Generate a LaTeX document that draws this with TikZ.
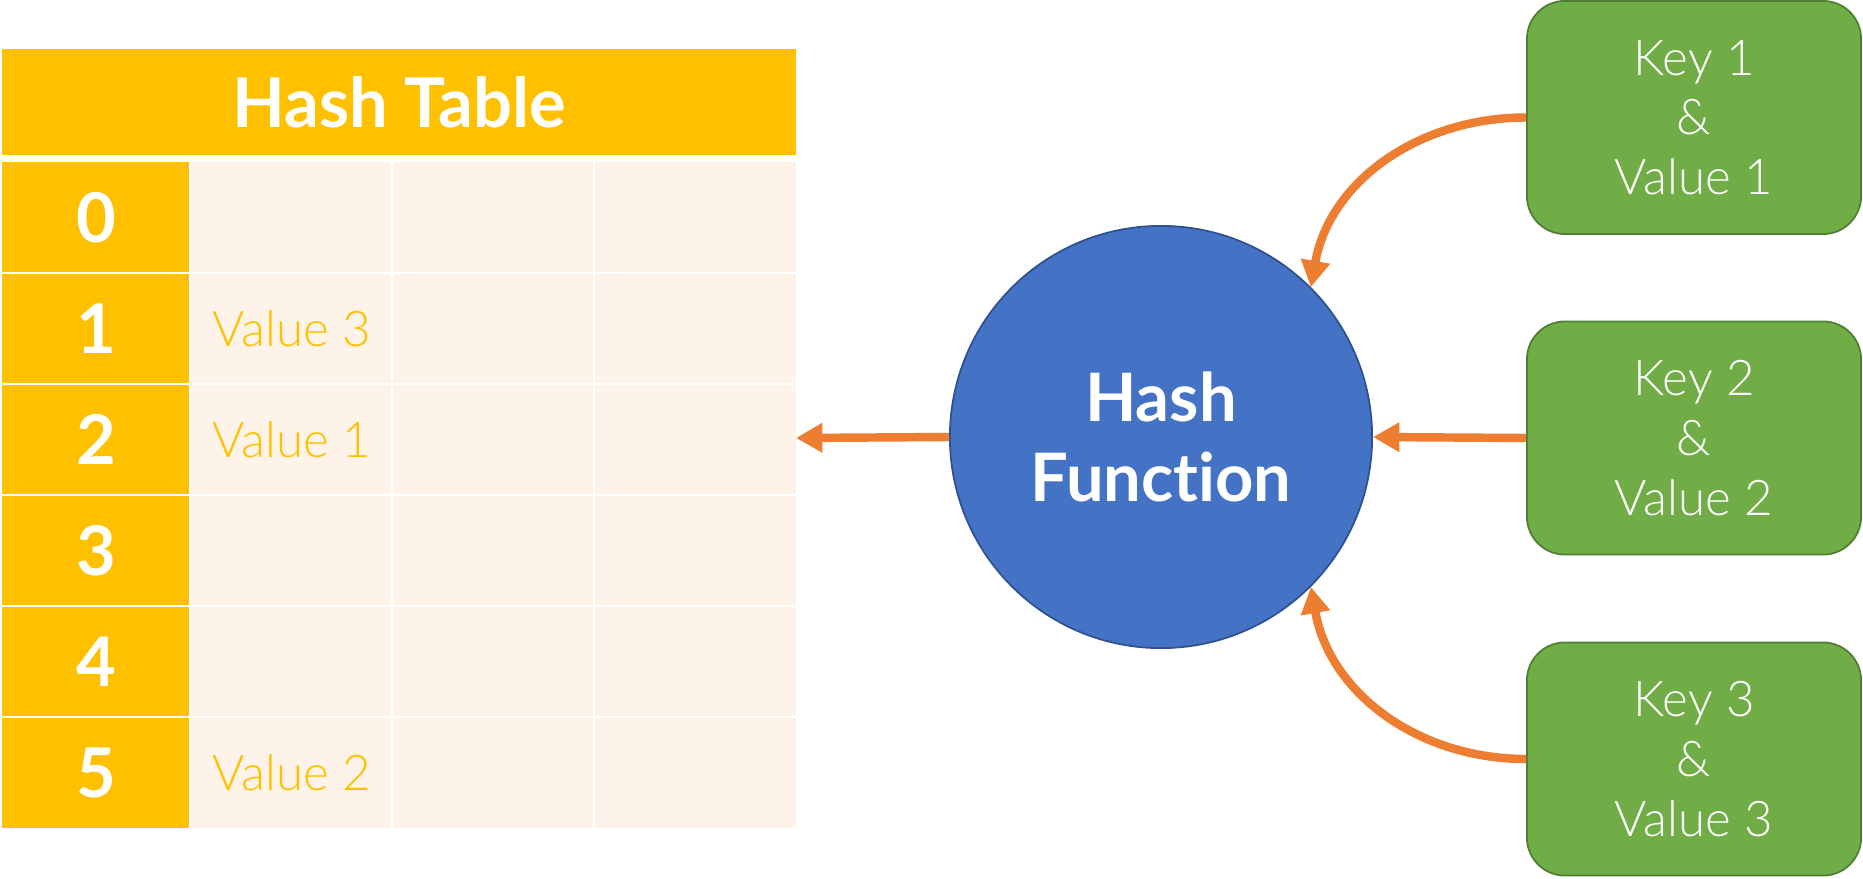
\documentclass[tikz,border=0pt]{standalone}
\usepackage{tikz}
\usetikzlibrary{arrows.meta}
\usepackage{xcolor}
\usepackage{fontspec}
\setmainfont{Lato}[Ligatures=NoCommon]
\newfontfamily\thinfont{Lato Light}
\definecolor{tblgold}{HTML}{FFC000}
\definecolor{tblcell}{HTML}{FEF3E8}
\definecolor{fnblue}{HTML}{4472C4}
\definecolor{fnedge}{HTML}{2F528F}
\definecolor{kvgreen}{HTML}{70AD47}
\definecolor{kvedge}{HTML}{507E32}
\definecolor{arrorange}{HTML}{ED7D31}

\begin{document}
\begin{tikzpicture}[x=0.01cm,y=-0.01cm,>={Triangle[length=7.5pt,width=8pt]},
  idx/.style={text=white,font=\bfseries\fontsize{19.5}{22}\selectfont},
  val/.style={anchor=west,inner sep=0pt,text=tblgold,font=\thinfont\fontsize{14}{17}\selectfont},
  kv/.style={draw=kvedge,line width=0.5pt,fill=kvgreen,rounded corners=0.38cm,minimum width=3.34cm,minimum height=2.33cm,align=center,text=white,font=\thinfont\fontsize{14}{17}\selectfont},
  link/.style={->,arrorange,line width=2.4pt}]
\useasboundingbox (0,0) rectangle (1863,879);
% table
\fill[tblgold] (2,49) rectangle (796,155);
\node[idx] (title) at (399,102) {Hash Table};
\fill[tblcell] (2,162) rectangle (796,828);
\fill[tblgold] (2,162) rectangle (189,828);
\draw[white,line width=0.6pt] (2,273) -- (796,273);
\draw[white,line width=0.6pt] (2,384) -- (796,384);
\draw[white,line width=0.6pt] (2,495) -- (796,495);
\draw[white,line width=0.6pt] (2,606) -- (796,606);
\draw[white,line width=0.6pt] (2,717) -- (796,717);
\draw[white,line width=0.6pt] (190,162) -- (190,828);
\draw[white,line width=0.6pt] (392,162) -- (392,828);
\draw[white,line width=0.6pt] (594,162) -- (594,828);
\node[idx] (r0) at (96,217.5) {0};
\node[idx] (r1) at (96,328.5) {1};
\node[idx] (r2) at (96,439.5) {2};
\node[idx] (r3) at (96,550.5) {3};
\node[idx] (r4) at (96,661.5) {4};
\node[idx] (r5) at (96,772.5) {5};
\node[val] (v3) at (212,328.5) {Value 3};
\node[val] (v1) at (212,439.5) {Value 1};
\node[val] (v2) at (212,772.5) {Value 2};
\coordinate (slot) at (796,438);
% hash function
\node[circle,draw=fnedge,line width=0.5pt,fill=fnblue,minimum size=4.22cm,inner sep=0pt,align=center,text=white,font=\bfseries\fontsize{19}{22.5}\selectfont] (hash) at (1161,437) {Hash\\Function};
% key/value pairs
\node[kv] (kv1) at (1694,117.5) {Key 1\\\&\\Value 1};
\node[kv] (kv2) at (1694,438) {Key 2\\\&\\Value 2};
\node[kv] (kv3) at (1694,759) {Key 3\\\&\\Value 3};
\draw[link] (hash.west) -- (slot);
\draw[link] (kv2.west) -- (hash.east);
\draw[link] (kv1.west) to[out=180,in=80] (hash.45);
\draw[link] (kv3.west) to[out=180,in=-80] (hash.-45);
\end{tikzpicture}
\end{document}
